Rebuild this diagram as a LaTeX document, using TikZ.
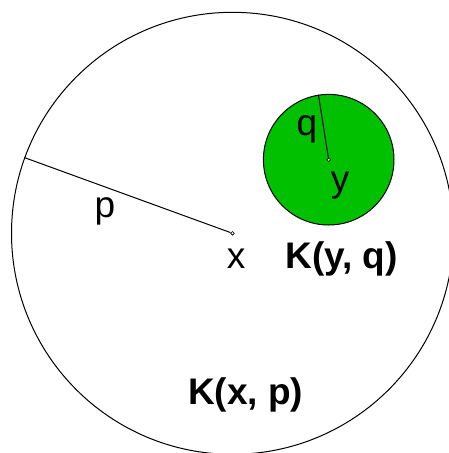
\documentclass[tikz,border=0pt]{standalone}
\usepackage{fontspec}
\setmainfont{Liberation Sans}
\definecolor{ballgreen}{RGB}{0,192,0}
\begin{document}
\begin{tikzpicture}[x=1pt,y=-1pt,line width=1pt,
  lab/.style={font=\fontsize{37}{40}\selectfont, anchor=base, inner sep=0pt},
  boldlab/.style={lab, font=\fontsize{37}{40}\selectfont\bfseries},
  ball/.style={circle, draw=black, inner sep=0pt},
  dot/.style={circle, draw=black, fill=white, line width=0.6pt, minimum size=3.6pt, inner sep=0pt}]
\useasboundingbox (0,0) rectangle (448,453);
\node[ball, minimum size=442pt] (big) at (232.5,233.3) {};
\node[ball, fill=ballgreen, minimum size=130.6pt] (small) at (328.7,159.7) {};
\node[dot] (xc) at (232.5,233.3) {};
\node[dot] (yc) at (328.7,159.7) {};
\draw (xc) -- (big.160.8);
\draw (yc) -- (small.99.2);
\node[lab] (plab) at (105,217.5) {p};
\node[lab] (xlab) at (236,268) {x};
\node[lab] (qlab) at (307,135) {q};
\node[lab] (ylab) at (340,191.7) {y};
\node[boldlab] (kyq) at (341.7,268) {K(y, q)};
\node[boldlab] (kxp) at (245.8,404) {K(x, p)};
\end{tikzpicture}
\end{document}
